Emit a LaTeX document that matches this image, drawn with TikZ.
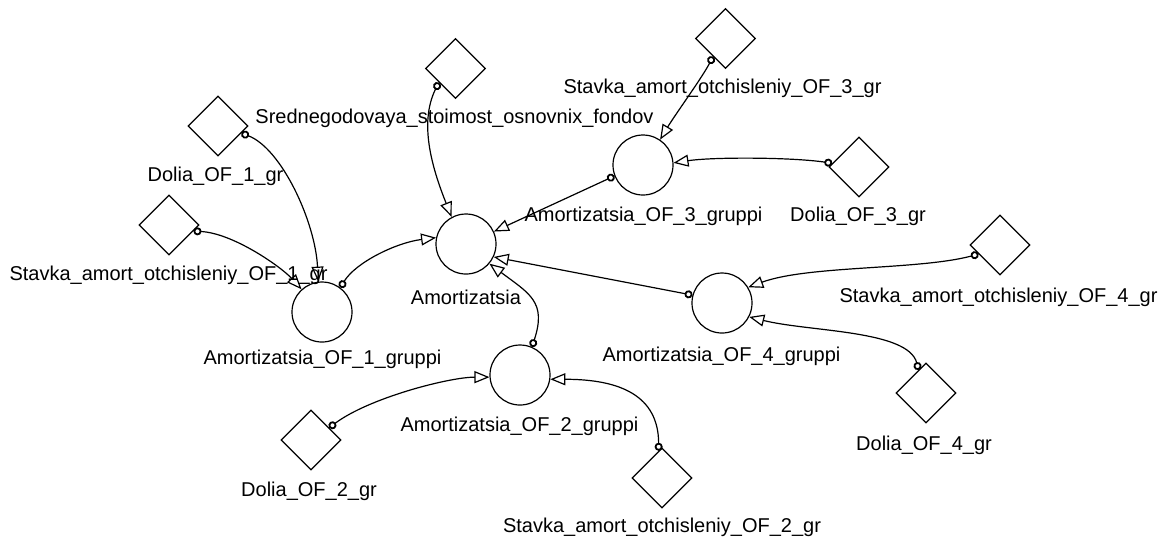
\documentclass[tikz,border=0pt]{standalone}
\usepackage{fontspec}
\setmainfont{Liberation Sans}
\usepackage{tikz}
\usetikzlibrary{shapes.geometric, arrows.meta}

\begin{document}
\begin{tikzpicture}[x=0.5pt, y=-0.5pt, line width=0.6pt,
  const/.style={diamond, draw, minimum size=30pt, inner sep=0pt},
  aux/.style={circle, draw, minimum size=30pt, inner sep=0pt},
  lbl/.style={anchor=base, inner sep=0pt, font=\fontsize{10}{12}\selectfont},
  link/.style={arrows={Circle[open, length=4pt, line width=0.9pt]-Triangle[open, length=7.5pt, width=6pt]}}]
\useasboundingbox (0,0) rectangle (1162,538);
% constants
\node[const] (sred) at (455.5,68.5) {};
\node[const] (st3) at (725.5,38.5) {};
\node[const] (dol1) at (218,126) {};
\node[const] (st1) at (169,225) {};
\node[const] (dol3) at (859,167) {};
\node[const] (st4) at (1000,245) {};
\node[const] (dol4) at (926,393) {};
\node[const] (dol2) at (311,440) {};
\node[const] (st2) at (662,478) {};
% auxiliaries
\node[aux] (amort) at (466,244) {};
\node[aux] (of1) at (322,312) {};
\node[aux] (of2) at (520,375) {};
\node[aux] (of3) at (643,165) {};
\node[aux] (of4) at (722,303) {};
% names
\node[lbl] (sred-t) at (454.5,123) {Srednegodovaya\_stoimost\_osnovnix\_fondov};
\node[lbl] (st3-t) at (722.5,93) {Stavka\_amort\_otchisleniy\_OF\_3\_gr};
\node[lbl] (dol1-t) at (215.5,181) {Dolia\_OF\_1\_gr};
\node[lbl] (st1-t) at (168.5,280) {Stavka\_amort\_otchisleniy\_OF\_1\_gr};
\node[lbl] (dol3-t) at (858,221) {Dolia\_OF\_3\_gr};
\node[lbl] (st4-t) at (998.5,302) {Stavka\_amort\_otchisleniy\_OF\_4\_gr};
\node[lbl] (dol4-t) at (924,450) {Dolia\_OF\_4\_gr};
\node[lbl] (dol2-t) at (309,496) {Dolia\_OF\_2\_gr};
\node[lbl] (st2-t) at (662,532) {Stavka\_amort\_otchisleniy\_OF\_2\_gr};
\node[lbl] (amort-t) at (466,304) {Amortizatsia};
\node[lbl] (of1-t) at (322.5,364) {Amortizatsia\_OF\_1\_gruppi};
\node[lbl] (of2-t) at (519.5,431) {Amortizatsia\_OF\_2\_gruppi};
\node[lbl] (of3-t) at (643.5,221) {Amortizatsia\_OF\_3\_gruppi};
\node[lbl] (of4-t) at (721.5,361) {Amortizatsia\_OF\_4\_gruppi};
% links
\draw[link] (sred.220) .. controls +(-20,40) and +(-20,-50) .. (amort.118);
\draw[link] (st3.235) .. controls +(-10,20) and +(15,-25) .. (of3.56);
\draw[link] (dol3.172) .. controls +(-40,-6) and +(40,-6) .. (of3.4);
\draw[link] (of3.201) -- (amort.24);
\draw[link] (of1.53) .. controls +(15,-25) and +(-40,5) .. (amort.168);
\draw[link] (dol1.343) .. controls +(40,15) and +(-3,-60) .. (of1.97);
\draw[link] (st1.346) .. controls +(40,2) and +(-20,-22) .. (of1.132);
\draw[link] (of4.165) -- (amort.335);
\draw[link] (st4.203) .. controls +(-60,16) and +(60,-22) .. (of4.31);
\draw[link] (dol4.108) .. controls +(-10,-40) and +(60,15) .. (of4.333);
\draw[link] (of2.67) .. controls +(15,-45) and +(40,30) .. (amort.320);
\draw[link] (dol2.34) .. controls +(40,-30) and +(-40,0) .. (of2.184);
\draw[link] (st2.97) .. controls +(0,-55) and +(70,0) .. (of2.352);
\end{tikzpicture}
\end{document}
